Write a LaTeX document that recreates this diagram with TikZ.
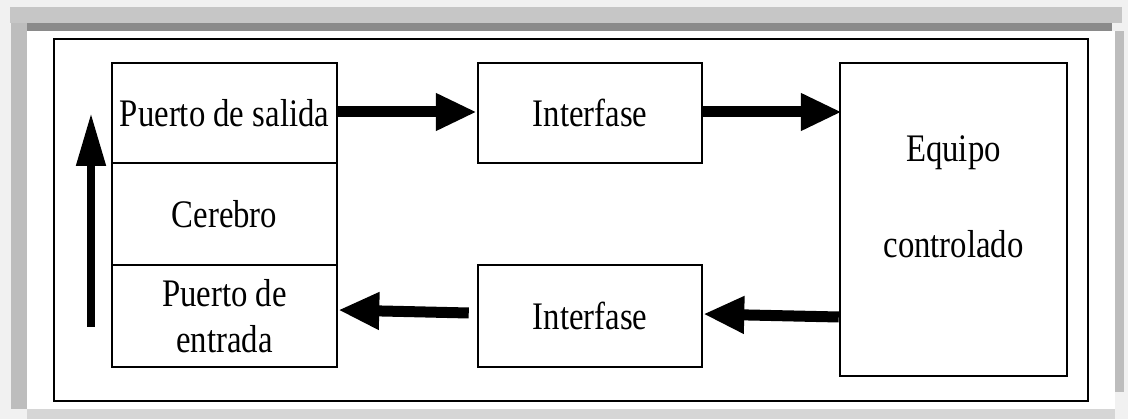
\documentclass[tikz,border=0pt]{standalone}
\usepackage{fontspec}
\newfontfamily\tnr[FakeStretch=0.84]{Liberation Serif}
\usetikzlibrary{arrows.meta}
\definecolor{pagebg}{HTML}{F1F1F1}
\definecolor{shadeA}{HTML}{C6C6C6}
\definecolor{shadeB}{HTML}{8A8A8A}
\definecolor{shadeC}{HTML}{BDBDBD}
\definecolor{shadeD}{HTML}{D6D6D6}
\tikzset{
  blk/.style={draw=black, line width=2.5pt, fill=white, inner sep=0pt,
    font=\tnr\fontsize{39}{46}\selectfont, align=center},
  txt/.style={inner sep=0pt, align=center, font=\tnr\fontsize{39}{95.7}\selectfont},
  bigarrow/.style={line width=11pt, -{Triangle[length=41pt 0, width=35pt 0]}},
  uparrow/.style={line width=8pt, -{Triangle[length=53pt 0, width=28pt 0]}},
}
\begin{document}
\begin{tikzpicture}[x=1pt, y=-1pt]
  \useasboundingbox (0,0) rectangle (1128,419);
  % window shadow around the figure
  \fill[pagebg] (0,0) rectangle (1128,419);
  \fill[shadeA] (10,7) rectangle (1122,23);
  \fill[shadeC] (11,23) rectangle (27,409);
  \fill[shadeB] (27,23) rectangle (1112,31);
  \fill[shadeC] (1115,31) rectangle (1124,392);
  \fill[shadeD] (27,409) rectangle (1115,419);
  \fill[white] (27,31) rectangle (1115,409);
  % outer frame
  \node[draw=black, line width=2pt, minimum width=1034pt, minimum height=362pt,
        inner sep=0pt] (frame) at (571,220.5) {};

  % controller stack
  \node[blk, minimum width=225pt, minimum height=100pt] (out) at (224.5,113) {Puerto de salida};
  \node[blk, minimum width=225pt, minimum height=102pt] (cer) at (224.5,214) {Cerebro};
  \node[blk, minimum width=225pt, minimum height=102pt] (inp) at (224.5,316) {Puerto de\\entrada};

  % interfaces
  \node[blk, minimum width=224pt, minimum height=100pt] (if1) at (590,113) {Interfase};
  \node[blk, minimum width=224pt, minimum height=102pt] (if2) at (590,316) {Interfase};

  % controlled equipment
  \node[blk, minimum width=227pt, minimum height=313pt] (eq) at (953.5,219.5) {};
  \node[txt] (eqlabel) at ([yshift=23pt]eq.center) {Equipo\\controlado};

  % signal flow
  \draw[bigarrow] ([yshift=1pt]out.east) -- ([yshift=1pt]if1.west);
  \draw[bigarrow] ([yshift=1pt]if1.east) -- ([yshift=1pt,xshift=3pt]if1.east -| eq.west);
  \draw[bigarrow] ([yshift=-1pt]if2.east -| eq.west) -- ([yshift=2pt]if2.east);
  \draw[bigarrow] ([xshift=-8pt,yshift=3pt]if2.west) -- ([yshift=6pt]inp.east);

  % internal flow from input to output port
  \coordinate (upfrom) at (91,327);
  \coordinate (upto) at (91,113);
  \draw[uparrow] (upfrom) -- (upto);
\end{tikzpicture}
\end{document}
